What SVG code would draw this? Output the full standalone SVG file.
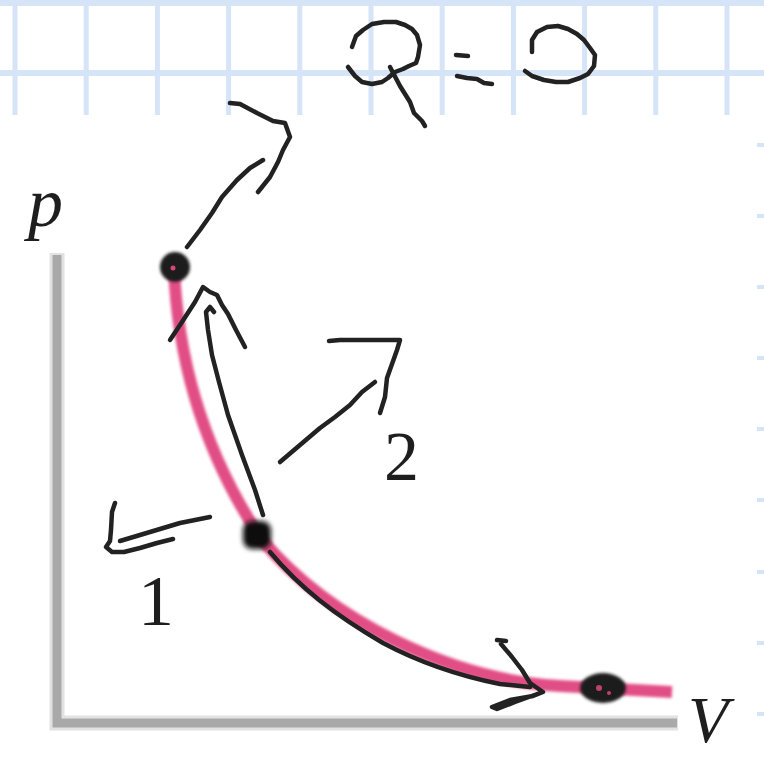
<svg xmlns="http://www.w3.org/2000/svg" width="764" height="757" viewBox="0 0 764 757">
<defs>
<style>
.grid{stroke:#d6e4f7;stroke-width:5;fill:none}
.gridh{stroke:#d6e4f7;stroke-width:6;fill:none}
.tick{stroke:#d6e4f7;stroke-width:4}
.ink{fill:none;stroke:#222;stroke-width:4.5;stroke-linecap:round;stroke-linejoin:round}
.axis{fill:none;stroke:#a9a9a9;stroke-width:9}
.axisglow{fill:none;stroke:#e2e2e2;stroke-width:15}
.lbl{font-family:"Liberation Serif","Times New Roman",serif;fill:#1e1e1e}
</style>
<filter id="soft" x="-10%" y="-10%" width="120%" height="120%"><feGaussianBlur stdDeviation="1.6"/></filter>
<filter id="soft2" x="-50%" y="-50%" width="200%" height="200%"><feGaussianBlur stdDeviation="2.8"/></filter>
</defs>
<rect width="764" height="757" fill="#fff"/>
<g id="grid">
<path class="gridh" d="M0,3H764M0,73H764"/>
<path class="grid" d="M15,0V115M86.2,0V115M157.4,0V115M228.6,0V115M299.8,0V115M371,0V115M442.2,0V115M513.4,0V115M584.6,0V115M655.8,0V115M727,0V115"/>
<path class="tick" d="M757,145H764M757,216H764M757,287H764M757,358H764M757,429H764M757,500H764M757,572H764M757,643H764M757,714H764"/>
</g>
<g id="axes">
<path class="axisglow" d="M57,253V723H678"/>
<path class="axis" d="M57,255V723H677"/>
<text class="lbl" x="28" y="226" font-size="70" font-style="italic">p</text>
<text class="lbl" x="688" y="742" font-size="66" font-style="italic">V</text>
</g>
<g id="curve">
<path d="M174,268 C178,365 205,455 262,540 C330,620 450,680 560,686 L672,692" fill="none" stroke="#e0457f" stroke-width="12" filter="url(#soft)" opacity="0.95"/>
</g>
<g id="state-top">
<circle cx="175" cy="267" r="15" fill="#1a1a1a" filter="url(#soft)"/>
<circle cx="173" cy="268" r="2.5" fill="#d8457c"/>
</g>
<g id="state-mid">
<rect x="243" y="521" width="28" height="28" rx="9" fill="#111" filter="url(#soft2)"/>
</g>
<g id="state-end">
<ellipse cx="603" cy="688" rx="23" ry="15" fill="#1a1a1a" filter="url(#soft)"/>
<circle cx="599" cy="688" r="3" fill="#c0406e"/>
<circle cx="609" cy="693" r="2" fill="#c0406e"/>
</g>
<g id="connectors">
<path class="ink" d="M187,247 L200,230 L212,213 L222,197 L237,180 L250,168 L263,160"/>
<path class="ink" d="M230,103 L240,104 L257,113 L273,121 L285,123 L290,137 L283,150 L278,162 L270,177 L258,192"/>
<path class="ink" d="M263,515 L255,490 L242,455 L228,415 L219,382 L212,355 L208,330 L206,312 L210,307 L214,312"/>
<path class="ink" d="M170,340 L182,322 L195,302 L203,287 L210,292 L217,295 L222,305 L228,314 L236,330 L245,347"/>
<path class="ink" d="M270,552 C300,588 335,615 383,643 C415,660 450,674 500,684 L530,687"/>
<path class="ink" d="M497,640 L506,641 M501,644 L512,657 L522,670 L530,683 L543,692 L533,696 L510,700 L492,707 L497,709 L515,702 L540,693"/>
<path class="ink" d="M115,503 L112,512 L111,530 L110,541 L106,547 L112,552 L124,552 L140,548 L157,543 L173,539"/>
<path class="ink" d="M120,541 L140,535 L160,529 L180,523 L195,520 L210,517"/>
<path class="ink" d="M280,462 L300,445 L320,428 L335,417 L350,405 L362,392 L375,382"/>
<path class="ink" d="M329,341 L340,340 L400,340 L397,350 L392,364 L387,378 L385,397 L380,413"/>
<path class="ink" d="M352,47 L356,36 L363,30 L372,24 L384,22 L396,22 L405,25 L412,29 L417,35 L420,45 L418,57 L416,63 L409,66 L403,69 L395,72 L388,78 L382,82 L372,84 L362,82 L355,76 L348,67"/>
<path class="ink" d="M390,67 L400,86 L410,102 L414,113 L422,121 L425,126"/>
<path class="ink" d="M456,55 L468,56"/>
<path class="ink" d="M457,76 L467,78 L477,79 L484,83 L492,84"/>
<path class="ink" d="M532,52 L532,40 L537,32 L547,27 L558,26 L568,29 L577,34 L584,40 L590,48 L595,55 L594,66 L588,74 L580,78 L568,82 L556,82 L544,80 L532,76 L525,71"/>
<text class="lbl" x="384" y="480" font-size="70">2</text>
<text class="lbl" x="138" y="625" font-size="72">1</text>
</g>
</svg>
